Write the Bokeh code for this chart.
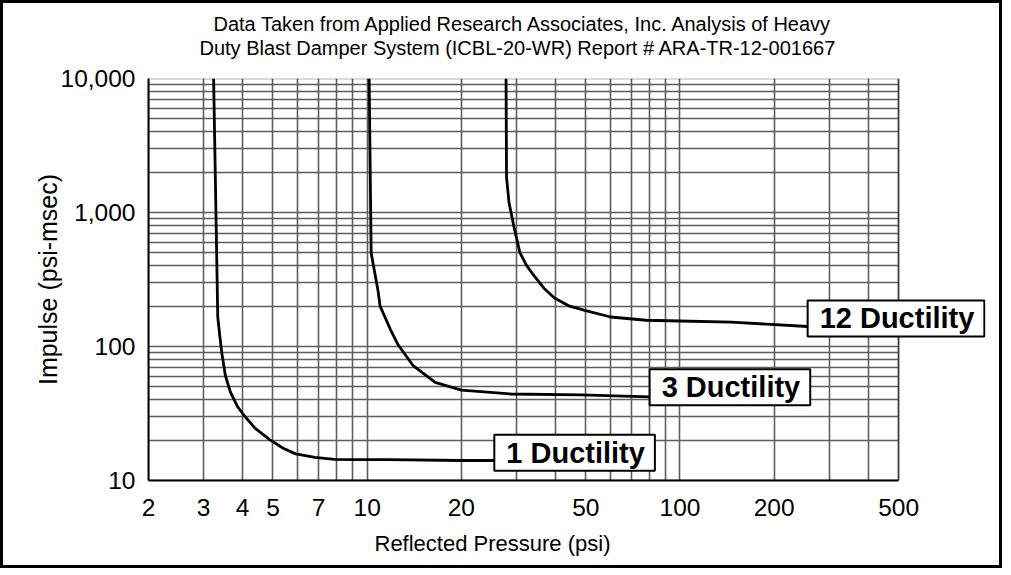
from bokeh.plotting import figure
from bokeh.models import FixedTicker, Title, Label, BoxAnnotation, Grid
from bokeh.embed import file_html
from bokeh.resources import INLINE

FONT = "Liberation Sans"

# ---- data ----
title_lines = [
    "Data Taken from Applied Research Associates, Inc. Analysis of Heavy",
    "Duty Blast Damper System (ICBL-20-WR) Report # ARA-TR-12-001667",
]
x_label = "Reflected Pressure (psi)"
y_label = "Impulse (psi-msec)"

x_tick_values = [2, 3, 4, 5, 7, 10, 20, 50, 100, 200, 500]
x_tick_labels = ["2", "3", "4", "5", "7", "10", "20", "50", "100", "200", "500"]
y_tick_values = [10, 100, 1000, 10000]
y_tick_labels = ["10", "100", "1,000", "10,000"]

x_grid_values = [2, 3, 4, 5, 6, 7, 8, 9, 10, 20, 30, 40, 50, 60, 70, 80, 90,
                 100, 200, 300, 400, 500]
y_grid_values = [10, 20, 30, 40, 50, 60, 70, 80, 90,
                 100, 200, 300, 400, 500, 600, 700, 800, 900,
                 1000, 2000, 3000, 4000, 5000, 6000, 7000, 8000, 9000, 10000]

x_min, x_max = 2, 500
y_min, y_max = 10, 10000

duct1_x = [3.23, 3.33, 3.38, 3.43, 3.52, 3.65, 3.84, 4.03, 4.38, 4.89, 5.39,
           5.91, 6.81, 7.87, 9.1, 11.7, 20.0, 25.5]
duct1_y = [10000, 166, 120, 90, 61, 46, 36, 30.8, 24.6, 20.1, 17.4,
           15.8, 14.9, 14.4, 14.3, 14.3, 14.1, 14.1]

duct3_x = [10.15, 10.3, 10.84, 11.0, 11.85, 12.56, 14.0, 16.5, 20.0, 28.8, 48.3, 80.0]
duct3_y = [10000, 500, 258, 200, 135, 103, 72.4, 54, 47.3, 44.2, 43.5, 42.1]

duct12_x = [27.8, 27.9, 28.4, 29.4, 30.8, 32.4, 34.1, 36.8, 39.7, 44.4, 50.0,
            60.0, 78.0, 100.0, 146.0, 256.0]
duct12_y = [10000, 1826, 1198, 800, 500, 400, 339, 271, 230, 200, 185,
            166, 157, 155, 152, 141]

series_names = ["1 Ductility", "3 Ductility", "12 Ductility"]
label_y = [16.1, 49.7, 162.0]

BORDER = 3
W, H = 1008 - 2 * BORDER, 574 - 2 * BORDER

p = figure(width=W, height=H, x_axis_type="log", y_axis_type="log",
           x_range=(2, 948), y_range=(y_min, y_max),
           output_backend="svg", toolbar_location=None,
           min_border_left=145, min_border_right=20,
           min_border_top=75, min_border_bottom=91)

p.background_fill_color = "white"
p.border_fill_color = "white"
p.outline_line_color = None
p.styles = {"border": f"{BORDER}px solid black"}

# grids (limited to the chart area)
GRID_COLOR = "#5e5e5e"
p.xgrid.ticker = FixedTicker(ticks=x_grid_values)
p.ygrid.ticker = FixedTicker(ticks=y_grid_values)
for g in (p.xgrid, p.ygrid):
    g.grid_line_color = GRID_COLOR
    g.grid_line_width = 1.6
if "cross_bounds" in Grid.properties():
    p.ygrid.cross_bounds = (x_min, x_max)
    p.xgrid.cross_bounds = (y_min, y_max)
else:
    p.ygrid.visible = False
    n = len(y_grid_values)
    p.segment(x0=[x_min] * n, y0=y_grid_values, x1=[x_max] * n, y1=y_grid_values,
              line_color=GRID_COLOR, line_width=1.6)

# chart border
p.add_layout(BoxAnnotation(left=x_min, right=x_max, bottom=y_min, top=y_max,
                           fill_alpha=0, line_color="black", line_width=2))

# axes
p.xaxis.ticker = FixedTicker(ticks=x_tick_values)
p.yaxis.ticker = FixedTicker(ticks=y_tick_values)
p.xaxis.bounds = (x_min, x_max)
p.xaxis.major_label_overrides = {float(v): s for v, s in zip(x_tick_values, x_tick_labels)}
p.yaxis.major_label_overrides = {float(v): s for v, s in zip(y_tick_values, y_tick_labels)}
for ax in (p.xaxis, p.yaxis):
    ax.major_tick_line_color = None
    ax.minor_tick_line_color = None
    ax.axis_line_color = "black"
    ax.axis_line_width = 2
    ax.major_label_text_font = FONT
    ax.major_label_text_font_size = "24.5px"
    ax.major_label_text_color = "black"
    ax.axis_label_text_font = FONT
    ax.axis_label_text_font_style = "normal"
    ax.axis_label_text_color = "black"
p.yaxis.axis_label_text_font_size = "25px"
p.yaxis.axis_label = y_label
p.xaxis.major_label_standoff = 12
p.yaxis.major_label_standoff = 7
p.yaxis.axis_label_standoff = -4

# x-axis title, placed under the chart area (not under the label margin)
p.add_layout(Title(text=x_label, align="left", offset=226, vertical_align="top",
                   text_font=FONT, text_font_size="22px", text_font_style="normal",
                   text_color="black", standoff=24), "below")

# titles (first added is closest to the plot)
t2 = Title(text=title_lines[1], align="left", offset=51, text_font=FONT,
           text_font_size="20px", text_font_style="normal", text_color="black",
           standoff=40)
t1 = Title(text=title_lines[0], align="left", offset=65, text_font=FONT,
           text_font_size="20px", text_font_style="normal", text_color="black",
           standoff=-41)
p.add_layout(t2, "above")
p.add_layout(t1, "above")

# curves
for xs, ys in ((duct1_x, duct1_y), (duct3_x, duct3_y), (duct12_x, duct12_y)):
    p.line(xs, ys, line_color="black", line_width=2.8, line_join="round")

# boxed labels at curve ends
for xs, name, ly in ((duct1_x, series_names[0], label_y[0]),
                     (duct3_x, series_names[1], label_y[1]),
                     (duct12_x, series_names[2], label_y[2])):
    p.add_layout(Label(x=xs[-1], y=ly, text=name, text_font=FONT,
                       text_font_size="29px", text_font_style="bold",
                       text_color="black", text_align="left",
                       text_baseline="middle",
                       background_fill_color="white", background_fill_alpha=1.0,
                       border_line_color="black", border_line_width=2,
                       padding=dict(left=12, right=10, top=2, bottom=2)))

open("out.html", "w").write(file_html(p, INLINE))
